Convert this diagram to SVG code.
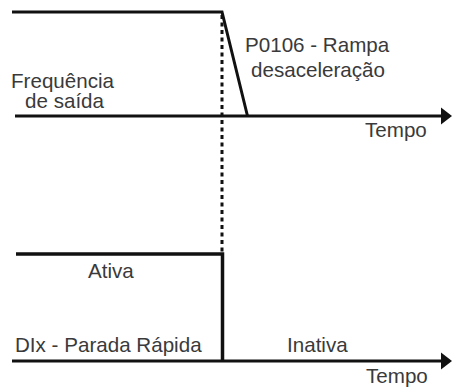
<svg xmlns="http://www.w3.org/2000/svg" width="452" height="387" viewBox="0 0 452 387">
<style>
.t{font-family:"Liberation Sans",Arial,sans-serif;font-size:20.6px;fill:#3a3a3a;}
.ln{stroke:#111;stroke-width:3;fill:none;}
.dot{stroke:#111;stroke-width:3;stroke-dasharray:4 3.5;fill:none;}
.ah{fill:#111;}
</style>
<rect width="452" height="387" fill="#fff"/>
<g id="connectors">
<polyline class="ln" points="12,12 222,12 247.5,116"/>
<line class="ln" x1="15" y1="116" x2="444" y2="116"/>
<polygon class="ah" points="441,107.5 452,116 441,124.5"/>
<line class="dot" x1="222" y1="15" x2="222" y2="252"/>
<polyline class="ln" points="16,254 222.5,254 222.5,361" style="stroke-width:3.5"/>
<line class="ln" x1="12" y1="361" x2="444" y2="361"/>
<polygon class="ah" points="441,352.5 452,361 441,369.5"/>
</g>
<g id="label-ramp">
<text class="t" x="245" y="52">P0106 - Rampa</text>
<text class="t" x="251" y="77">desaceleração</text>
</g>
<g id="label-freq">
<text class="t" x="11" y="88">Frequência</text>
<text class="t" x="25" y="108">de saída</text>
</g>
<g id="label-tempo1"><text class="t" x="365" y="137">Tempo</text></g>
<g id="label-ativa"><text class="t" x="88" y="278">Ativa</text></g>
<g id="label-dix"><text class="t" x="15" y="352">DIx - Parada Rápida</text></g>
<g id="label-inativa"><text class="t" x="287" y="352">Inativa</text></g>
<g id="label-tempo2"><text class="t" x="366" y="383">Tempo</text></g>
</svg>
